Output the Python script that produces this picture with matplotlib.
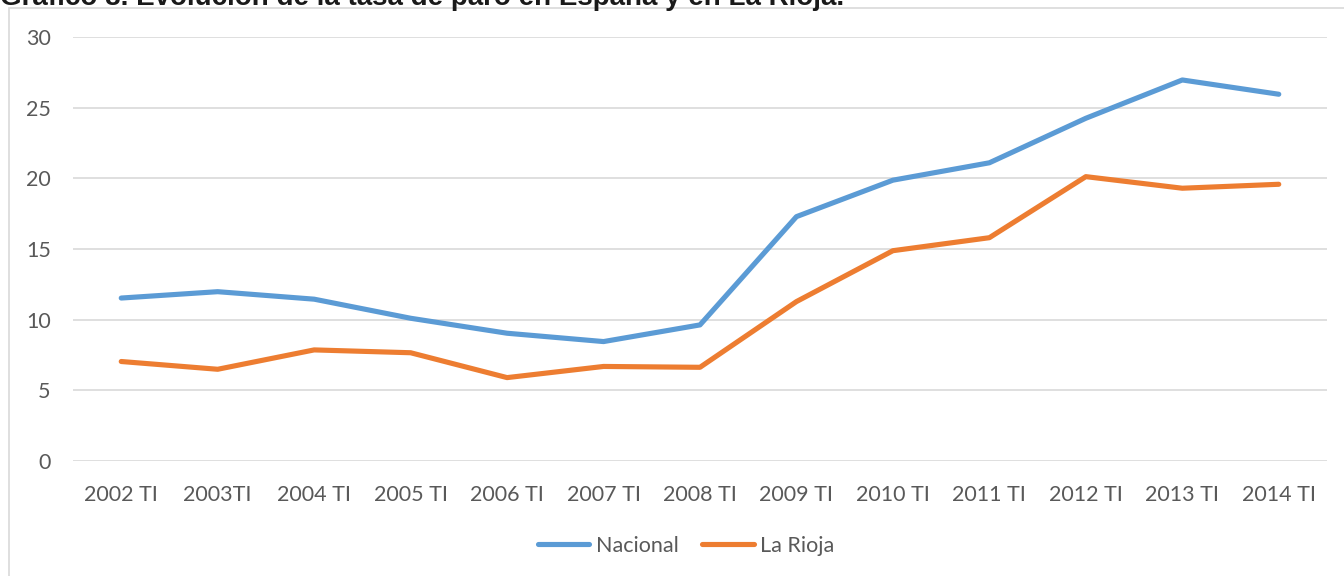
import numpy as np
import matplotlib
matplotlib.use("Agg")
import matplotlib.pyplot as plt
from matplotlib.patches import Rectangle

periodos = ['2002 TI', '2003TI', '2004 TI', '2005 TI', '2006 TI', '2007 TI', '2008 TI',
            '2009 TI', '2010 TI', '2011 TI', '2012 TI', '2013 TI', '2014 TI']
nacional = [11.53, 11.98, 11.45, 10.1, 9.04, 8.45, 9.63, 17.29, 19.87, 21.1, 24.25, 26.96, 25.95]
la_rioja = [7.04, 6.49, 7.86, 7.66, 5.9, 6.69, 6.63, 11.28, 14.88, 15.8, 20.12, 19.3, 19.58]
ind = np.arange(len(periodos))

gris = '#595959'
fig = plt.figure(figsize=(13.44, 5.76), dpi=100)

# marco del gráfico
fig.patches.append(Rectangle((9 / 1344, -0.05), 1.1, 1 - 8 / 576 + 0.05,
                             transform=fig.transFigure, fill=False,
                             edgecolor='#D9D9D9', linewidth=1.2))

# el título aparece recortado por arriba en el original
fig.text(0.0, 1 - 5 / 576, 'Gráfico 8. Evolución de la tasa de paro en España y en La Rioja.',
         family='Liberation Sans', weight='bold', fontsize=20, color='#1a1a1a',
         ha='left', va='baseline')

ax = fig.add_axes([73 / 1344, 1 - 461 / 576, (1327 - 73) / 1344, (461 - 37) / 576])
ax.plot(ind, nacional, color='#5B9BD5', lw=3.7, solid_capstyle='round',
        solid_joinstyle='round', label='Nacional')
ax.plot(ind, la_rioja, color='#ED7D31', lw=3.7, solid_capstyle='round',
        solid_joinstyle='round', label='La Rioja')

ax.set_xlim(-0.5, len(periodos) - 0.5)
ax.set_ylim(0, 30)
ax.set_yticks(range(0, 31, 5))
ax.set_xticks(ind)
ax.set_xticklabels(periodos)
ax.grid(axis='y', color='#D9D9D9', lw=1.2)
ax.set_axisbelow(True)
for s in ax.spines.values():
    s.set_visible(False)
ax.tick_params(axis='both', length=0, labelcolor=gris, labelsize=15.5)
ax.tick_params(axis='y', pad=16)
ax.tick_params(axis='x', pad=17)
for lab in ax.get_xticklabels() + ax.get_yticklabels():
    lab.set_family('Lato')

leg = fig.legend(loc='center', bbox_to_anchor=(686 / 1344, 1 - 546 / 576), ncol=2,
                 frameon=False, handlelength=2.4, handletextpad=0.3, columnspacing=1.1,
                 prop={'family': 'Lato', 'size': 15.5})
for t in leg.get_texts():
    t.set_color(gris)

fig.savefig('out.png', dpi=100)
